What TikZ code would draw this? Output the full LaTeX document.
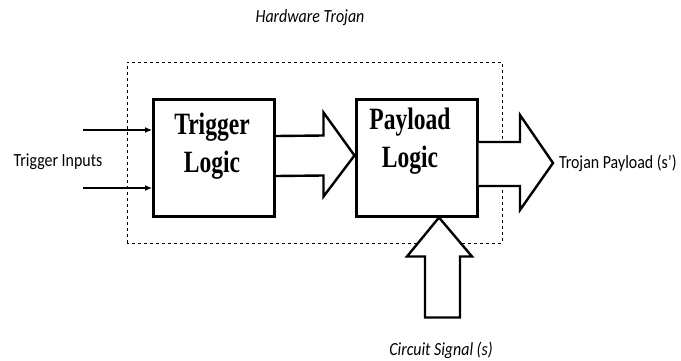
\documentclass[tikz,border=0pt]{standalone}
\usepackage{fontspec}
\setmainfont{Liberation Serif}
\newfontfamily\lblfont{Carlito}
\usetikzlibrary{arrows.meta}
\usetikzlibrary{calc}

\begin{document}
\begin{tikzpicture}[x=1pt,y=1pt,
  blk/.style={draw,line width=3pt,minimum width=121pt,minimum height=117pt},
  blktext/.style={font=\bfseries\fontsize{31}{38}\selectfont,align=center,xscale=0.76,transform shape},
  lbl/.style={font=\lblfont\fontsize{18.5}{20}\selectfont,xscale=0.86,transform shape},
  fat/.style={draw,line width=2.4pt,fill=white,line join=miter}]
  \useasboundingbox (0,0) rectangle (681,360);
  % trojan boundary
  \draw[dashed,line width=0.8pt] (127,117) rectangle (502,298);
  \node[lbl,font=\lblfont\itshape\fontsize{18.5}{20}\selectfont] (hwt) at (310,342) {Hardware Trojan};
  % the two blocks
  \node[blk] (trig) at (214,202) {};
  \node[blk] (pay) at (416.5,202.5) {};
  \node[blktext] (trigtxt) at ($(trig)+(-2,12)$) {Trigger\\Logic};
  \node[blktext] (paytxt) at ($(pay)+(-6.5,16.5)$) {Payload\\Logic};
  % trigger inputs
  \coordinate (in1) at (83,230);
  \coordinate (in2) at (83,172);
  \draw[line width=1.1pt,-{Latex[length=7pt,width=6pt]}] (in1) -- (in1 -| trig.west);
  \draw[line width=1.1pt,-{Latex[length=7pt,width=6pt]}] (in2) -- (in2 -| trig.west);
  \node[lbl] (tin) at (58,198) {Trigger Inputs};
  % trigger -> payload
  \coordinate (t1) at ($(pay.west)+(0,2)$);
  \draw[fat] ($(trig.east)+(0,22)$) -- ($(t1)+(-31,20)$) -- ($(t1)+(-31,43)$) -- (t1)
    -- ($(t1)+(-31,-41)$) -- ($(t1)+(-31,-20)$) -- ($(trig.east)+(0,-18)$);
  % payload output
  \coordinate (out) at (553,197);
  \draw[fat] ($(pay.east |- out)+(0,21)$) -- ($(out)+(-33,21)$) -- ($(out)+(-33,48)$) -- (out)
    -- ($(out)+(-33,-47)$) -- ($(out)+(-33,-23)$) -- ($(pay.east |- out)+(0,-23)$);
  \node[lbl,anchor=west] (tpl) at ($(out)+(3,0)$) {Trojan Payload (s’)};
  % circuit signal
  \coordinate (sig) at ($(pay.south)+(22.5,0)$);
  \draw[fat] (sig) -- ($(sig)+(33,-39)$) -- ($(sig)+(21,-39)$) -- ($(sig)+(21,-100)$)
    -- ($(sig)+(-14,-100)$) -- ($(sig)+(-14,-39)$) -- ($(sig)+(-32,-39)$) -- cycle;
  \node[lbl,font=\lblfont\itshape\fontsize{18.5}{20}\selectfont] (csig) at (441,10) {Circuit Signal (s)};
\end{tikzpicture}
\end{document}
